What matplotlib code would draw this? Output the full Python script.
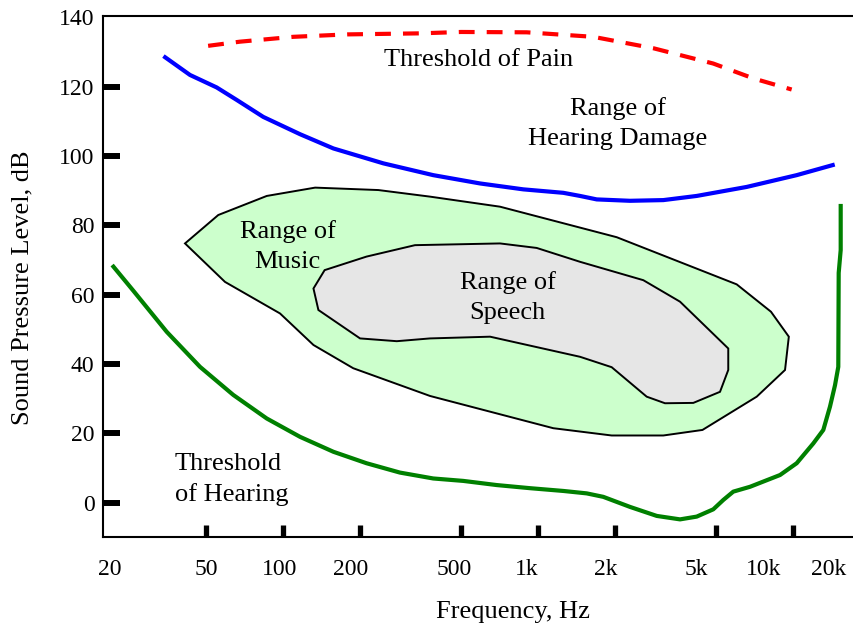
import matplotlib
matplotlib.use("Agg")
import matplotlib.pyplot as plt

plt.rcParams["font.family"] = ["Liberation Serif", "DejaVu Serif"]

# threshold of pain (dashed red)
PAIN_HZ = [51, 68, 110, 179, 345, 500, 905, 1650, 2840, 4870, 7000, 9890]
PAIN_DB = [131.8, 133.0, 134.4, 135.1, 135.4, 135.8, 135.7, 134.4, 131.1, 126.7, 122.4, 119.2]

# onset of hearing damage (blue)
DAMAGE_HZ = [34.6, 43.3, 55.1, 66.0, 83.9, 117, 158, 248, 389, 594, 877, 1259,
             1464, 1702, 2298, 3105, 4197, 6591, 10350, 14325]
DAMAGE_DB = [128.5, 123.4, 119.8, 116.2, 111.3, 106.3, 102.2, 97.9, 94.5, 92.1,
             90.4, 89.4, 88.5, 87.5, 87.1, 87.3, 88.5, 91.1, 94.5, 97.4]

# threshold of hearing (green)
HEARING_HZ = [21.7, 26.0, 35.1, 47.4, 64.0, 86.6, 117, 158, 213, 288, 389, 510,
              690, 932, 1259, 1555, 1806, 2298, 2926, 3610, 4197, 4874, 5335,
              5838, 6790, 8905, 10350, 12020, 13160, 13975, 14625, 15065, 15120,
              15395, 15395]
HEARING_DB = [68.1, 61.1, 49.3, 39.2, 31.1, 24.3, 19.0, 14.7, 11.4, 8.7, 7.0, 6.3,
              5.1, 4.2, 3.4, 2.7, 1.7, -1.2, -3.8, -4.8, -4.0, -1.9, 0.8,
              3.2, 4.6, 8.0, 11.4, 17.1, 21.0, 27.7, 33.9, 39.2, 66.3,
              72.9, 85.6]

# range of music outline
MUSIC_HZ = [41.4, 55.9, 86.6, 134, 237, 378, 711, 2038, 6020, 8205, 9640, 9315,
            7215, 4422, 3105, 1948, 1150, 378, 189, 132, 97.6, 59.4]
MUSIC_DB = [74.8, 83.0, 88.5, 90.9, 90.2, 88.3, 85.4, 76.6, 63.0, 55.1, 47.9, 38.3,
            30.6, 21.0, 19.4, 19.4, 21.5, 30.8, 38.8, 45.5, 54.6, 63.7]

# range of speech outline
SPEECH_HZ = [146, 213, 330, 711, 990, 1464, 2592, 3610, 5580, 5580, 5180, 4070,
             3152, 2672, 1948, 1464, 650, 378, 280, 201, 138, 132]
SPEECH_DB = [67.1, 71.0, 74.3, 74.8, 73.5, 69.5, 64.2, 58.0, 44.5, 38.3, 32.0, 28.8,
             28.7, 30.6, 39.1, 42.1, 47.9, 47.4, 46.6, 47.4, 55.6, 61.8]

TICK_HZ = [50, 100, 200, 500, 1000, 2000, 5000, 10000]
# the printed labels in the original drawing sit a little off the tick marks
XLABEL_HZ = [21.0, 50, 97, 185, 471, 905, 1846, 4197, 7655, 13850]
XLABELS = ["20", "50", "100", "200", "500", "1k", "2k", "5k", "10k", "20k"]
YTICKS = [0, 20, 40, 60, 80, 100, 120, 140]


def main():
    fig = plt.figure(figsize=(8.54, 6.27), dpi=100)
    ax = fig.add_axes([0.1203, 0.144, 0.8797, 0.831])
    ax.set_xscale("log")
    ax.set_xlim(19.7, 17360)
    ax.set_ylim(-9.8, 140.5)

    ax.fill(MUSIC_HZ, MUSIC_DB, facecolor="#ccffcc", edgecolor="black",
            linewidth=1.4, zorder=2)
    ax.fill(SPEECH_HZ, SPEECH_DB, facecolor="#e6e6e6", edgecolor="black",
            linewidth=1.4, zorder=3)
    ax.plot(HEARING_HZ, HEARING_DB, color="#008000", lw=3, zorder=4)
    ax.plot(DAMAGE_HZ, DAMAGE_DB, color="#0000ff", lw=3, zorder=4)
    ax.plot(PAIN_HZ, PAIN_DB, color="#ff0000", lw=3, dashes=(3.8, 2.9),
            dash_capstyle="butt", zorder=4)

    txt = dict(fontsize=19, ha="center", va="center", linespacing=1.46, zorder=5)
    ax.text(588, 127.7, "Threshold of Pain", **txt)
    ax.text(2063, 109.4, "Range of\nHearing Damage", **txt)
    ax.text(104.6, 74.0, "Range of\nMusic", **txt)
    ax.text(761, 59.2, "Range of\nSpeech", **txt)
    ax.text(37.8, 6.8, "Threshold\nof Hearing", fontsize=19, ha="left",
            va="center", linespacing=1.46, zorder=5)

    ax.xaxis.remove_overlapping_locs = False
    ax.set_xticks(TICK_HZ, labels=[""] * len(TICK_HZ))
    ax.set_xticks(XLABEL_HZ, labels=XLABELS, minor=True)
    ax.tick_params(axis="x", which="major", direction="in", length=8.5,
                   width=3.8, color="black")
    ax.tick_params(axis="x", which="minor", length=0, pad=16, labelsize=17)
    ax.set_yticks(YTICKS)
    ax.tick_params(axis="y", direction="in", length=12, width=4.3, pad=6,
                   labelsize=17)
    ax.yaxis.get_major_ticks()[-1].tick1line.set_visible(False)

    ax.spines["right"].set_visible(False)
    for side in ("left", "bottom", "top"):
        ax.spines[side].set_linewidth(1.5)

    ax.set_xlabel("Frequency, Hz", fontsize=19)
    ax.set_ylabel("Sound Pressure Level, dB", fontsize=19)
    ax.xaxis.set_label_coords(0.546, -0.123)
    ax.yaxis.set_label_coords(-0.092, 0.477)

    fig.savefig("out.png", dpi=100)
    plt.close(fig)


if __name__ == "__main__":
    main()
